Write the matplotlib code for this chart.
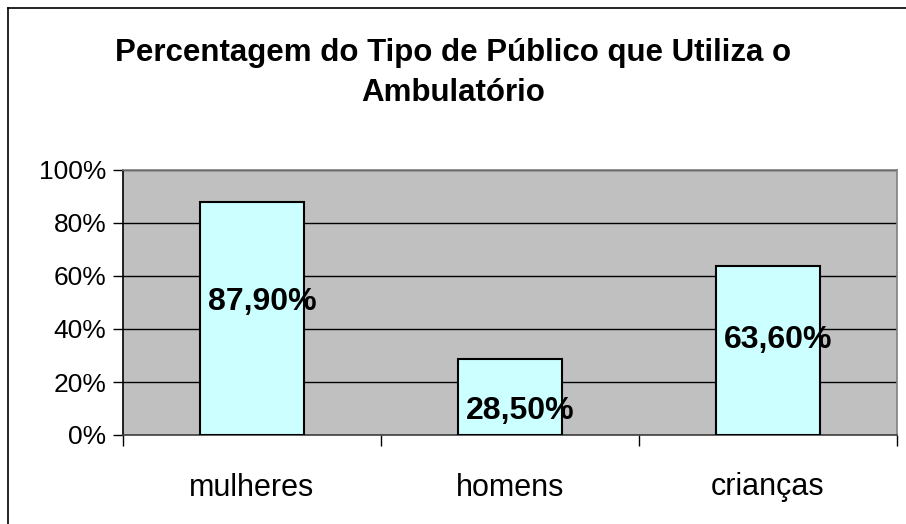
import matplotlib
matplotlib.use("Agg")
import matplotlib.pyplot as plt
from matplotlib.lines import Line2D
from matplotlib.ticker import FixedLocator, NullFormatter

plt.rcParams['font.family'] = ['Liberation Sans', 'DejaVu Sans']

categories = ["mulheres", "homens", "crianças"]
values = [87.9, 28.5, 63.6]
value_labels = ["87,90%", "28,50%", "63,60%"]
label_y = [50.2, 9.0, 35.8]
yticks = [0, 20, 40, 60, 80, 100]
ytick_labels = ["0%", "20%", "40%", "60%", "80%", "100%"]
title = "Percentagem do Tipo de Público que Utiliza o\nAmbulatório"

fig = plt.figure(figsize=(9.06, 5.24), dpi=100)
fig.patch.set_facecolor('white')

# outer chart border (left and top visible)
W, H = 906, 524
fig.add_artist(Line2D([8 / W, 8 / W], [0, 1 - 8 / H], color='black', lw=1.2, transform=fig.transFigure))
fig.add_artist(Line2D([8 / W, 1], [1 - 8 / H, 1 - 8 / H], color='black', lw=1.2, transform=fig.transFigure))

ax = fig.add_axes([123 / W, 1 - 435 / H, (897 - 123) / W, (435 - 170) / H])
ax.set_facecolor('#C0C0C0')

x = list(range(len(categories)))
ax.bar(x, values, width=0.4, color='#CCFFFF', edgecolor='black', linewidth=1.5, zorder=3)

for xi, lab, ly in zip(x, value_labels, label_y):
    ax.text(xi + 0.04, ly, lab, ha='center', va='center', fontsize=23,
            fontweight='bold', color='black', zorder=4)

ax.set_xlim(-0.5, len(categories) - 0.5)
ax.set_ylim(0, 100)
ax.set_yticks(yticks)
ax.set_yticklabels(ytick_labels, fontsize=19)
ax.yaxis.grid(True, color='black', linewidth=1.0, zorder=1)
ax.set_axisbelow(True)

# x: category labels at centers, ticks at boundaries
ax.xaxis.set_major_locator(FixedLocator([i - 0.5 for i in range(len(categories) + 1)]))
ax.xaxis.set_major_formatter(NullFormatter())
ax.xaxis.set_minor_locator(FixedLocator(x))
ax.set_xticklabels(categories, minor=True, fontsize=22)
ax.tick_params(axis='x', which='minor', length=0, pad=27)
ax.tick_params(axis='x', which='major', length=8, width=1, color='black', direction='out')
ax.tick_params(axis='y', length=7, width=1, color='black', direction='out', pad=5)

for side in ['top', 'right']:
    ax.spines[side].set_color('#808080')
    ax.spines[side].set_linewidth(1.2)
ax.spines['left'].set_color('black')
ax.spines['bottom'].set_color('#404040')
ax.spines['left'].set_linewidth(1.2)
ax.spines['bottom'].set_linewidth(1.2)

fig.text(453 / W, 1 - 73 / H, title, ha='center', va='center', fontsize=22.5,
         fontweight='bold', linespacing=1.45)

fig.savefig('out.png', dpi=100)
